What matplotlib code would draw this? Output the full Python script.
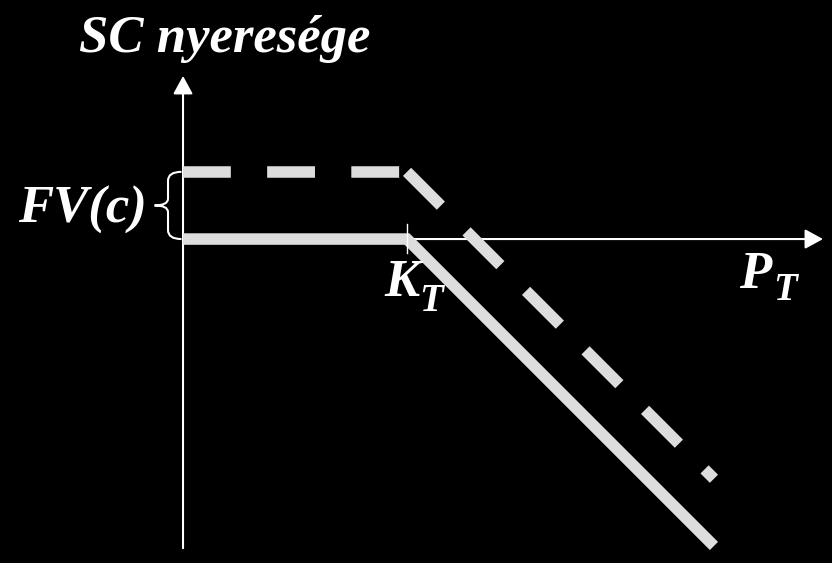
import matplotlib
matplotlib.use("Agg")
import matplotlib.pyplot as plt
from matplotlib.path import Path
from matplotlib.patches import PathPatch

# payoff of a short call (SC) at expiry, with and without the future value of the premium
strike = 100
price = [0, 100, 237]
short_call = [0, 0, -137]
fv_c = 30
with_premium = [v + fv_c for v in short_call]

title = "SC nyeresége"
fv_label = "FV(c)"

LINE = "#dddddd"
FONT = "Liberation Serif"

fig = plt.figure(figsize=(8.32, 5.63), dpi=100, facecolor="black")
ax = fig.add_axes([0, 0, 1, 1])
ax.set_facecolor("black")
ax.set_xlim(-81.7, 289.7)
ax.set_ylim(-144.6, 106.7)
ax.axis("off")

# axes with arrow heads
arrow = dict(arrowstyle="-|>,head_length=0.55,head_width=0.3", color="white",
             lw=1.5, mutation_scale=20, shrinkA=0, shrinkB=0)
ax.annotate("", xy=(285.7, 0), xytext=(strike, 0), arrowprops=arrow)
ax.annotate("", xy=(0, 72.8), xytext=(0, -138), arrowprops=arrow)
ax.plot([strike, strike], [6.7, -6.3], color="white", lw=1, zorder=4)

# solid line: short call payoff
ax.plot(price, short_call, color=LINE, lw=8.3, solid_joinstyle="miter",
        solid_capstyle="butt", zorder=3)

# dashed line: payoff + FV(c), dash pattern restarts on each segment
for i in range(len(price) - 1):
    ax.plot(price[i:i + 2], with_premium[i:i + 2], color=LINE, lw=8.3,
            dashes=(4.15, 3.15), dash_capstyle="butt", zorder=3)

# curly brace between the two flat parts
x0, w = -0.7, 12
mid = fv_c / 2
verts = [(x0, fv_c), (x0 - w / 2, fv_c), (x0 - w / 2, fv_c - 4),
         (x0 - w / 2, mid + 3),
         (x0 - w / 2, mid), (x0 - w, mid),
         (x0 - w / 2, mid), (x0 - w / 2, mid - 3),
         (x0 - w / 2, 4),
         (x0 - w / 2, 0), (x0, 0)]
codes = [Path.MOVETO, Path.CURVE3, Path.CURVE3, Path.LINETO,
         Path.CURVE3, Path.CURVE3, Path.CURVE3, Path.CURVE3,
         Path.LINETO, Path.CURVE3, Path.CURVE3]
ax.add_patch(PathPatch(Path(verts, codes), fill=False, ec="white", lw=1.5))

txt = dict(color="white", family=FONT, weight="bold", style="italic")
ax.text(18.75, 83.5, title, ha="center", va="baseline", fontsize=38, **txt)
ax.text(-16, 7.3, fv_label, ha="right", va="baseline", fontsize=38, **txt)
ax.text(90, -25.5, "K", ha="left", va="baseline", fontsize=38, **txt)
ax.text(105.5, -32, "T", ha="left", va="baseline", fontsize=28, **txt)
ax.text(248, -22, "P", ha="left", va="baseline", fontsize=38, **txt)
ax.text(263.5, -27, "T", ha="left", va="baseline", fontsize=28, **txt)

fig.savefig("out.png", dpi=100, facecolor="black")
